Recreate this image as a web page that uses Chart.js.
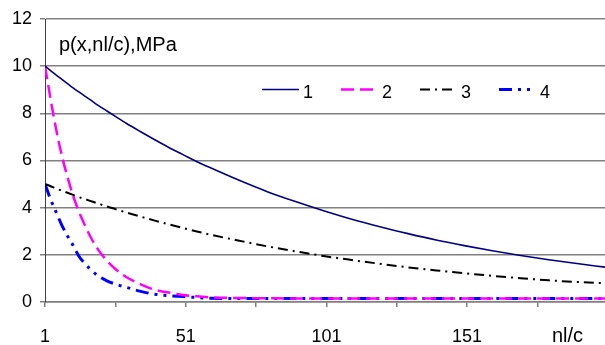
<!DOCTYPE html>
<html>
<head>
<meta charset="utf-8">
<script src="https://cdn.jsdelivr.net/npm/chart.js@4/dist/chart.umd.min.js"></script>
<style>
html,body{margin:0;padding:0;background:#fff;}
#wrap{width:605px;height:345px;}
</style>
</head>
<body>
<div id="wrap"><canvas id="c" width="605" height="345"></canvas></div>
<script>
const xValues = [1,3,5,7,9,11,13,15,17,20,23,26,30,35,40,45,50,55,60,70,80,90,100,110,120,130,140,150,160,170,180,190,200];
const series1 = [10,9.81,9.62,9.44,9.26,9.08,8.91,8.74,8.58,8.33,8.10,7.87,7.57,7.22,6.88,6.55,6.25,5.95,5.68,5.16,4.68,4.26,3.87,3.51,3.19,2.90,2.63,2.39,2.17,1.97,1.79,1.63,1.48];
const series2 = [10,8.6,7.3,6.2,5.3,4.5,3.85,3.3,2.8,2.2,1.75,1.4,1.05,0.75,0.52,0.40,0.30,0.24,0.20,0.17,0.16,0.15,0.15,0.15,0.15,0.15,0.15,0.15,0.15,0.15,0.15,0.15,0.15];
const series3 = [5.0,4.91,4.81,4.72,4.63,4.54,4.45,4.37,4.29,4.17,4.05,3.94,3.79,3.62,3.45,3.29,3.14,2.99,2.85,2.60,2.36,2.15,1.95,1.78,1.62,1.47,1.34,1.22,1.11,1.01,0.92,0.85,0.80];
const series4 = [5,4.35,3.8,3.25,2.8,2.4,1.95,1.65,1.4,1.1,0.9,0.76,0.62,0.45,0.33,0.27,0.23,0.19,0.16,0.15,0.15,0.15,0.15,0.15,0.15,0.15,0.15,0.15,0.15,0.15,0.15,0.15,0.15];
const seriesNames = ['1','2','3','4'];
const xTickValues = [1,26,51,76,101,126,151,176];
const xLabelValues = [1,51,101,151];
const yTickValues = [0,2,4,6,8,10,12];
const yTitle = 'p(x,nl/c),MPa';
const xTitle = 'nl/c';

const pts = arr => arr.map((v,i)=>({x:xValues[i], y:v}));
const FONT = '"Liberation Sans", Arial, sans-serif';

const styles = [
  {color:'#000080', width:1.6, dash:[]},
  {color:'#FF00FF', width:2.5, dash:[13,6]},
  {color:'#000000', width:2, dash:[10,5,2,5]},
  {color:'#0000FF', width:3, dash:[13,6,3,6,3,6]}
];
const allSeries = [series1, series2, series3, series4];

const overlay = {
  id:'overlay',
  afterDraw(chart){
    const ctx = chart.ctx;
    ctx.save();
    ctx.fillStyle = '#000';
    ctx.font = '20px ' + FONT;
    ctx.textBaseline = 'alphabetic';
    ctx.textAlign = 'left';
    ctx.fillText(yTitle, 59, 51);
    ctx.fillText(xTitle, 552, 342);
    // legend
    ctx.font = '18px ' + FONT;
    seriesNames.forEach((name,i)=>{
      const x0 = 262 + i*79;
      const y = 89.5;
      ctx.beginPath();
      ctx.strokeStyle = styles[i].color;
      ctx.lineWidth = styles[i].width;
      ctx.setLineDash(styles[i].dash);
      ctx.moveTo(x0, y);
      ctx.lineTo(x0 + 37, y);
      ctx.stroke();
      ctx.setLineDash([]);
      ctx.fillStyle = '#000';
      ctx.fillText(name, x0 + 41, 97.5);
    });
    ctx.restore();
  }
};

new Chart(document.getElementById('c'), {
  type:'line',
  data:{
    datasets: allSeries.map((s,i)=>({
      label: seriesNames[i],
      data: pts(s),
      borderColor: styles[i].color,
      borderWidth: styles[i].width,
      borderDash: styles[i].dash,
      pointRadius:0,
      fill:false,
      cubicInterpolationMode:'monotone'
    }))
  },
  options:{
    responsive:false,
    animation:false,
    layout:{padding:{top:19,left:0,right:0,bottom:0}},
    plugins:{legend:{display:false}, tooltip:{enabled:false}},
    scales:{
      x:{
        type:'linear', min:1, max:200,
        afterBuildTicks: a => { a.ticks = xTickValues.map(v=>({value:v})); },
        afterFit: s => { s.height = 43; },
        grid:{drawOnChartArea:false, drawTicks:true, tickLength:5, color:'#808080', lineWidth:1.5},
        border:{display:true, color:'#808080', width:1.5},
        ticks:{
          autoSkip:false, maxRotation:0, padding:19, color:'#000',
          font:{family:FONT, size:18},
          callback: v => xLabelValues.includes(v) ? String(v) : ''
        }
      },
      y:{
        min:0, max:12,
        afterBuildTicks: a => { a.ticks = yTickValues.map(v=>({value:v})); },
        afterFit: s => { s.width = 45; },
        grid:{drawOnChartArea:true, drawTicks:true, tickLength:5, color:'#808080', lineWidth:1.5},
        border:{display:true, color:'#404040', width:1},
        ticks:{padding:8, color:'#000', font:{family:FONT, size:18}}
      }
    }
  },
  plugins:[overlay]
});
</script>
</body>
</html>
